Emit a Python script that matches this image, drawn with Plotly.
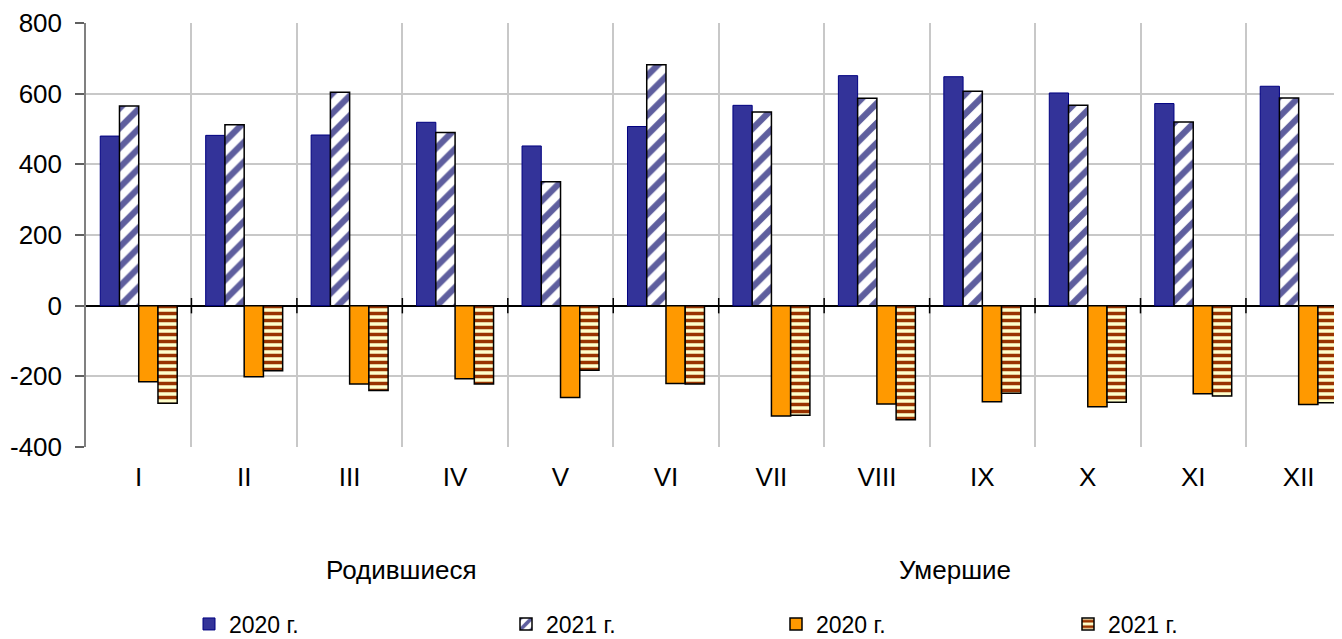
import plotly.graph_objects as go

months = ["I", "II", "III", "IV", "V", "VI", "VII", "VIII", "IX", "X", "XI", "XII"]
births_2020 = [480, 482, 483, 519, 452, 507, 567, 651, 648, 602, 572, 621]
births_2021 = [565, 512, 604, 490, 351, 682, 548, 587, 607, 567, 520, 588]
deaths_2020 = [-215, -201, -222, -207, -260, -220, -312, -278, -272, -286, -249, -280]
deaths_2021 = [-276, -184, -240, -222, -183, -222, -310, -323, -248, -273, -256, -275]
series_names = ["2020 г.", "2021 г.", "2020 г.", "2021 г."]
group_labels = ["Родившиеся", "Умершие"]
y_ticks = [-400, -200, 0, 200, 400, 600, 800]

OFF = 8  # page body margin
W, H = 1342 - OFF, 639 - OFF
L, T, R = 86 - OFF, 23 - OFF, 0
B = H - (447 - OFF)
PW, PH = W - L - R, H - T - B
cat_px = 105.45
x = list(range(len(months)))
x_end = -0.5 + PW / cat_px
FONT = "Arial, Liberation Sans, sans-serif"
FS = 26
FS_LEG = 23

def px_x(p):
    return (p - OFF - L) / PW

def px_y(p):
    return (H - B - (p - OFF)) / PH

legend_px = [203, 520, 790, 1082]

fig = go.Figure()
fig.add_trace(go.Bar(x=x, y=births_2020, name=series_names[0], legend="legend",
                     marker=dict(color="#333399", line=dict(color="#000080", width=1))))
fig.add_trace(go.Bar(x=x, y=births_2021, name=series_names[1], legend="legend2",
                     marker=dict(color="white", line=dict(color="black", width=1.5),
                                 pattern=dict(shape="/", fgcolor="#5e5e9e", bgcolor="white",
                                              size=14, solidity=0.45, fgopacity=1))))
fig.add_trace(go.Bar(x=x, y=deaths_2020, name=series_names[2], legend="legend3",
                     marker=dict(color="#FF9900", line=dict(color="black", width=1.5))))
fig.add_trace(go.Bar(x=x, y=deaths_2021, name=series_names[3], legend="legend4",
                     marker=dict(color="#FFFFCC", line=dict(color="black", width=1.5),
                                 pattern=dict(shape="-", fgcolor="#993300", bgcolor="#FFFFCC",
                                              size=7, solidity=0.5, fgopacity=1))))

bounds = [i + 0.5 for i in range(len(months))]
fig.add_trace(go.Scatter(x=bounds, y=[0] * len(bounds), mode="markers", showlegend=False,
                         hoverinfo="skip",
                         marker=dict(symbol="line-ns", size=11, color="black",
                                     line=dict(color="black", width=1.5))))

legend_common = dict(orientation="h", xanchor="left", yanchor="middle",
                     font=dict(family=FONT, size=FS_LEG, color="black"),
                     bgcolor="rgba(0,0,0,0)", itemclick=False, itemdoubleclick=False)
legends = {}
for i, lp in enumerate(legend_px):
    key = "legend" if i == 0 else f"legend{i + 1}"
    legends[key] = dict(legend_common, x=px_x(lp - 14), y=px_y(624))

fig.update_layout(
    width=W, height=H,
    margin=dict(l=L, r=R, t=T, b=B, pad=0, autoexpand=False),
    paper_bgcolor="white", plot_bgcolor="white",
    barmode="group", bargap=0.27, bargroupgap=0,
    font=dict(family=FONT, size=FS, color="black"),
    showlegend=True,
    **legends,
)
fig.update_xaxes(
    range=[-0.5, x_end], tickmode="array", tickvals=x, ticktext=months,
    showgrid=False, ticks="", showline=False, zeroline=False,
    tickfont=dict(size=FS), ticklabelstandoff=12,
    minor=dict(tickmode="array", tickvals=[-0.5] + bounds, showgrid=True,
               gridcolor="#c8c8c8", gridwidth=1.5, ticks=""),
)
fig.update_yaxes(
    range=[-400, 800], tickmode="array", tickvals=y_ticks,
    ticktext=[str(v) for v in y_ticks],
    showgrid=True, gridcolor="#c8c8c8", gridwidth=1.5,
    zeroline=True, zerolinecolor="black", zerolinewidth=1.5,
    showline=True, linecolor="#808080", linewidth=1.5,
    ticks="outside", ticklen=9, tickcolor="#606060", tickwidth=1.5,
    tickfont=dict(size=FS), ticklabelstandoff=8,
)

for lbl, cx in zip(group_labels, [401, 955]):
    fig.add_annotation(text=lbl, xref="paper", yref="paper",
                       x=px_x(cx), y=px_y(570),
                       showarrow=False, xanchor="center", yanchor="middle",
                       font=dict(size=FS))

fig.write_html("out.html")
